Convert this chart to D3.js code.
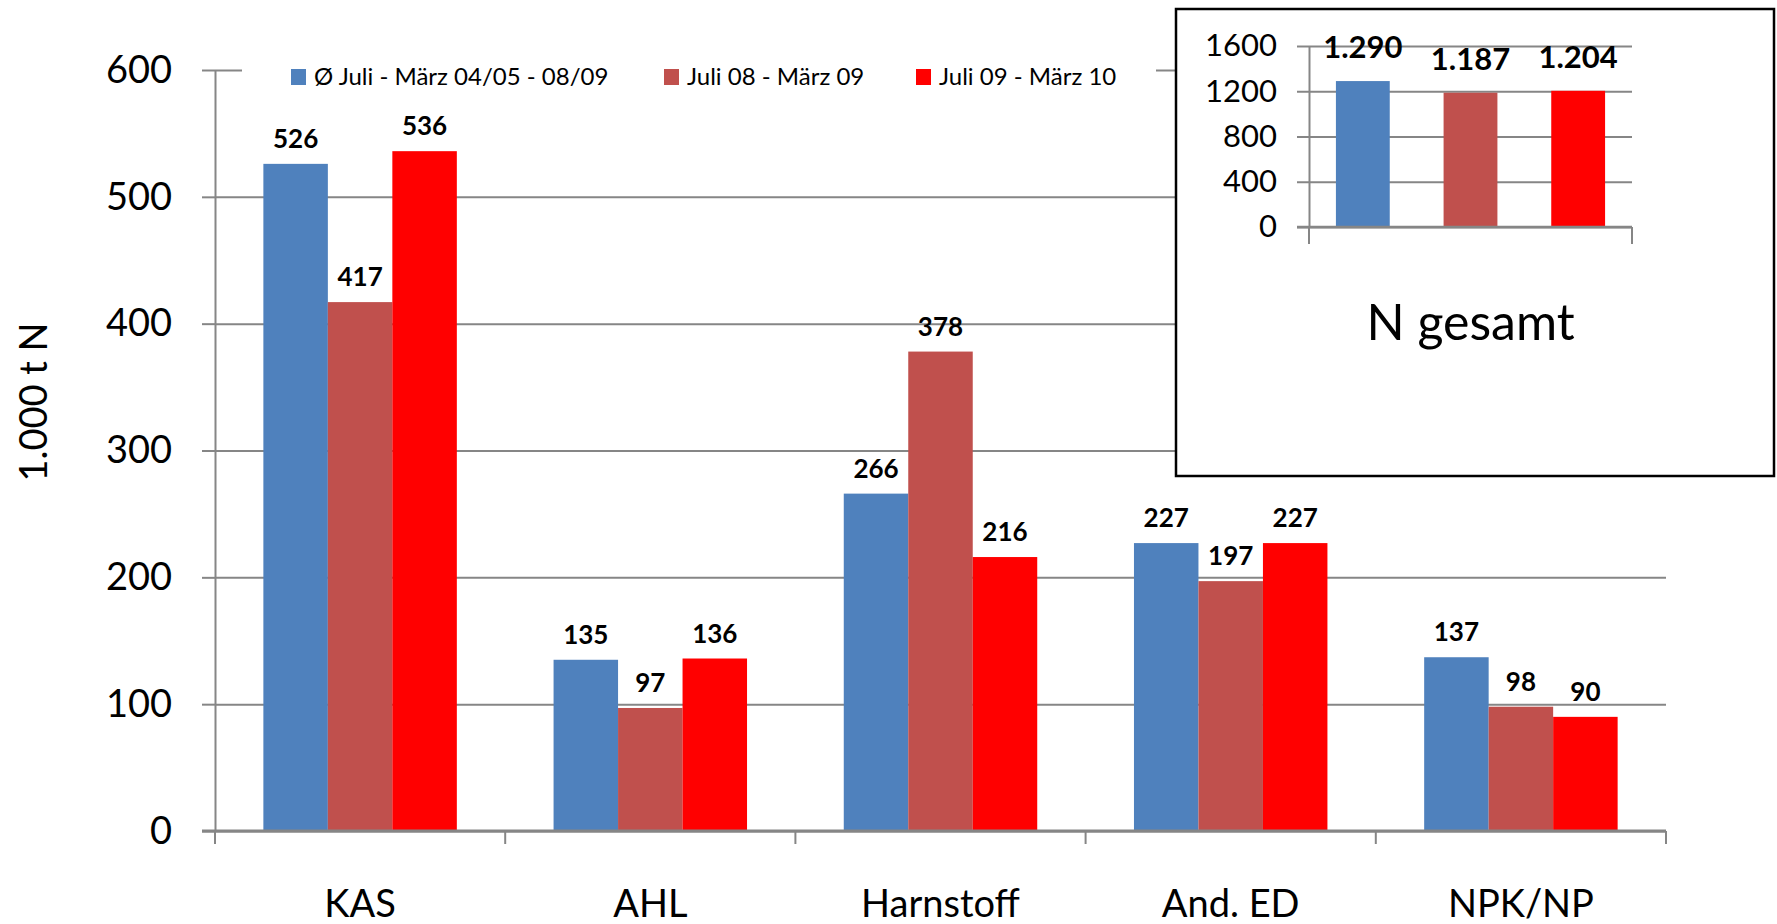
<!DOCTYPE html>
<html>
<head>
<meta charset="utf-8">
<script src="https://cdn.jsdelivr.net/npm/d3@7/dist/d3.min.js"></script>
<style>
  body { margin: 0; background: #fff; }
  svg { display: block; font-family: Lato, "Open Sans", sans-serif; }
</style>
</head>
<body>
<svg id="chart"></svg>
<script>
const WIDTH = 1777;
const HEIGHT = 924;

const categories = ["KAS", "AHL", "Harnstoff", "And. ED", "NPK/NP"];
const seriesNames = ["Ø Juli - März 04/05 - 08/09", "Juli 08 - März 09", "Juli 09 - März 10"];
const avg0409 = [526, 135, 266, 227, 137];
const jul08mar09 = [417, 97, 378, 197, 98];
const jul09mar10 = [536, 136, 216, 227, 90];
const yTicks = [0, 100, 200, 300, 400, 500, 600];

const totalValues = [1290, 1187, 1204];
const totalLabels = ["1.290", "1.187", "1.204"];
const totalTicks = [0, 400, 800, 1200, 1600];
const totalCategory = ["N gesamt"];

const COLORS = ["#4F81BD", "#C0504D", "#FF0000"];
const GRID = "#868686";

const seriesData = [avg0409, jul08mar09, jul09mar10];

const svg = d3.select("#chart").attr("width", WIDTH).attr("height", HEIGHT);

// main plot area
const plot = { left: 215, right: 1666, top: 70, bottom: 831 };

const x = d3.scaleBand()
   .domain(categories)
   .range([plot.left, plot.right])
   .paddingInner(0)
   .paddingOuter(0);
// 150% gap: each band = 4.5 bar widths
const barW = x.bandwidth() / 4.5;
const xSub = d3.scaleBand()
   .domain(d3.range(seriesNames.length))
   .range([barW * 0.75, barW * 3.75]);

const y = d3.scaleLinear().domain([0, 600]).range([plot.bottom, plot.top]);

// gridlines
svg.append("g")
   .attr("transform", `translate(${plot.left},0)`)
   .call(d3.axisLeft(y).tickValues(yTicks).tickSize(-(plot.right - plot.left)).tickFormat(""))
   .call(g => g.select(".domain").remove())
   .call(g => g.selectAll("line").attr("stroke", GRID).attr("stroke-width", 2));

// y axis with outer ticks + labels
svg.append("g")
   .attr("transform", `translate(${plot.left},0)`)
   .call(d3.axisLeft(y).tickValues(yTicks).tickSize(13).tickPadding(30).tickSizeOuter(0))
   .call(g => g.select(".domain").attr("stroke", GRID).attr("stroke-width", 2))
   .call(g => g.selectAll("line").attr("stroke", GRID).attr("stroke-width", 2))
   .call(g => g.selectAll("text").attr("font-size", 38).attr("fill", "#000").attr("font-family", "Lato"));

// bars
const groups = svg.append("g").selectAll("g")
   .data(categories)
   .join("g")
   .attr("transform", d => `translate(${x(d)},0)`);

groups.each(function (cat, ci) {
   const g = d3.select(this);
   seriesData.forEach((s, si) => {
      g.append("rect")
         .attr("x", xSub(si))
         .attr("width", xSub.bandwidth())
         .attr("y", y(s[ci]))
         .attr("height", y(0) - y(s[ci]))
         .attr("fill", COLORS[si]);
      g.append("text")
         .attr("x", xSub(si) + xSub.bandwidth() / 2)
         .attr("y", y(s[ci]) - 16)
         .attr("text-anchor", "middle")
         .attr("font-size", 26)
         .attr("font-weight", "bold")
         .text(s[ci]);
   });
});

// x axis: zero line + boundary ticks
const bounds = categories.map(d => x(d)).concat([plot.right]);
svg.append("line")
   .attr("x1", plot.left - 13).attr("x2", plot.right)
   .attr("y1", y(0)).attr("y2", y(0))
   .attr("stroke", GRID).attr("stroke-width", 3);
svg.append("g").selectAll("line")
   .data(bounds)
   .join("line")
   .attr("x1", d => d).attr("x2", d => d)
   .attr("y1", y(0)).attr("y2", y(0) + 13)
   .attr("stroke", GRID).attr("stroke-width", 2);
svg.append("g").selectAll("text")
   .data(categories)
   .join("text")
   .attr("x", d => x(d) + x.bandwidth() / 2)
   .attr("y", 917)
   .attr("text-anchor", "middle")
   .attr("font-size", 38)
   .text(d => d);

// y axis title
svg.append("text")
   .attr("transform", "translate(47,402) rotate(-90)")
   .attr("text-anchor", "middle")
   .attr("font-size", 38)
   .text("1.000 t N");

// legend (white background hides the top gridline)
const legend = svg.append("g");
legend.append("rect")
   .attr("x", 242).attr("y", 56).attr("width", 914).attr("height", 36)
   .attr("fill", "#fff");
const legendX = [291, 664, 916];
seriesNames.forEach((name, i) => {
   legend.append("rect")
      .attr("x", legendX[i]).attr("y", 69).attr("width", 15).attr("height", 16)
      .attr("fill", COLORS[i]);
   legend.append("text")
      .attr("x", legendX[i] + 23).attr("y", 85)
      .attr("font-size", 24)
      .text(name);
});

// inset: N gesamt
svg.append("rect")
   .attr("x", 1176).attr("y", 9).attr("width", 598).attr("height", 467)
   .attr("fill", "#fff").attr("stroke", "#000").attr("stroke-width", 2.5);

const inset = { left: 1309, right: 1632, top: 46, bottom: 227 };
const xi = d3.scaleBand().domain(totalCategory).range([inset.left, inset.right]);
const xiSub = d3.scaleBand()
   .domain(d3.range(totalValues.length))
   .range([0, xi.bandwidth()])
   .paddingInner(0).paddingOuter(0);
const insetBarW = xiSub.bandwidth() / 2;
const yi = d3.scaleLinear().domain([0, 1600]).range([inset.bottom, inset.top]);

svg.append("g")
   .attr("transform", `translate(${inset.left},0)`)
   .call(d3.axisLeft(yi).tickValues(totalTicks).tickSize(-(inset.right - inset.left)).tickFormat(""))
   .call(g => g.select(".domain").remove())
   .call(g => g.selectAll("line").attr("stroke", GRID).attr("stroke-width", 2));

svg.append("g")
   .attr("transform", `translate(${inset.left},0)`)
   .call(d3.axisLeft(yi).tickValues(totalTicks).tickFormat(d3.format("d")).tickSize(12).tickPadding(20).tickSizeOuter(0))
   .call(g => g.select(".domain").attr("stroke", GRID).attr("stroke-width", 2))
   .call(g => g.selectAll("line").attr("stroke", GRID).attr("stroke-width", 2))
   .call(g => g.selectAll("text").attr("font-size", 31).attr("fill", "#000").attr("font-family", "Lato"));

svg.append("g").selectAll("rect")
   .data(totalValues)
   .join("rect")
   .attr("x", (d, i) => xi("N gesamt") + xiSub(i) + (xiSub.bandwidth() - insetBarW) / 2)
   .attr("width", insetBarW)
   .attr("y", d => yi(d))
   .attr("height", d => yi(0) - yi(d))
   .attr("fill", (d, i) => COLORS[i]);

svg.append("g").selectAll("text")
   .data(totalValues)
   .join("text")
   .attr("x", (d, i) => xi("N gesamt") + xiSub(i) + xiSub.bandwidth() / 2)
   .attr("y", d => yi(d) - 23)
   .attr("text-anchor", "middle")
   .attr("font-size", 31)
   .attr("font-weight", "bold")
   .text((d, i) => totalLabels[i]);

svg.append("line")
   .attr("x1", inset.left - 12).attr("x2", inset.right)
   .attr("y1", yi(0)).attr("y2", yi(0))
   .attr("stroke", GRID).attr("stroke-width", 2.5);
svg.append("g").selectAll("line")
   .data([inset.left, inset.right])
   .join("line")
   .attr("x1", d => d).attr("x2", d => d)
   .attr("y1", yi(0)).attr("y2", yi(0) + 17)
   .attr("stroke", GRID).attr("stroke-width", 2);

svg.append("text")
   .attr("x", (inset.left + inset.right) / 2)
   .attr("y", 340)
   .attr("text-anchor", "middle")
   .attr("font-size", 50)
   .text(totalCategory[0]);
</script>
</body>
</html>
